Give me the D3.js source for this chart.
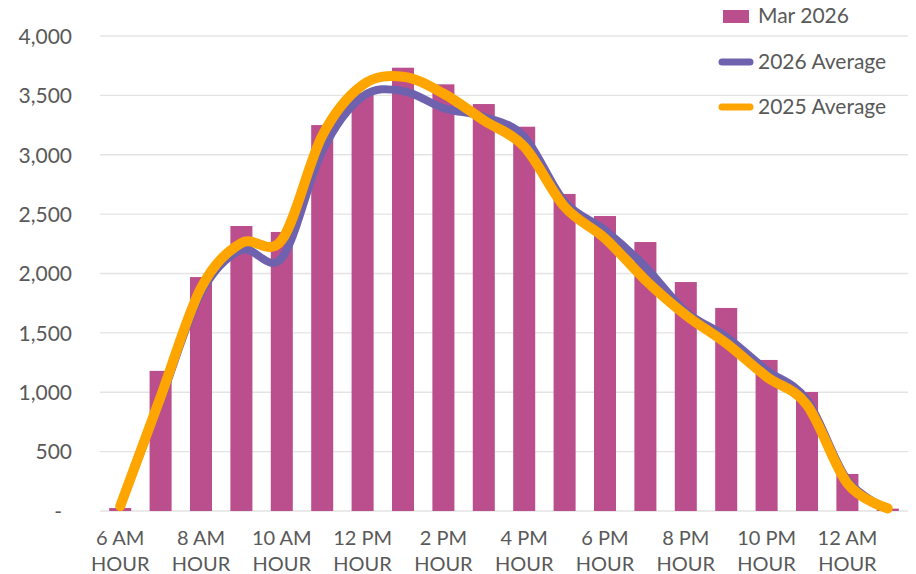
<!DOCTYPE html>
<html>
<head>
<meta charset="utf-8">
<script src="https://cdn.jsdelivr.net/npm/d3@7"></script>
<style>
  html, body { margin: 0; padding: 0; background: #fff; }
  svg { display: block; font-family: Lato, "Open Sans", sans-serif; }
</style>
</head>
<body>
<svg id="chart" width="916" height="574"></svg>
<script>
const hours = ["6 AM","7 AM","8 AM","9 AM","10 AM","11 AM","12 PM","1 PM","2 PM","3 PM","4 PM","5 PM","6 PM","7 PM","8 PM","9 PM","10 PM","11 PM","12 AM","1 AM"];
const mar2026 = [25,1180,1970,2400,2350,3250,3520,3733,3593,3427,3236,2670,2484,2265,1928,1710,1272,1002,312,20];
const avg2026 = [40,930,1835,2198,2130,3030,3490,3537,3393,3320,3152,2605,2366,2057,1678,1468,1187,935,261,20];
const avg2025 = [40,960,1878,2257,2282,3160,3587,3657,3516,3290,3068,2562,2296,1945,1650,1412,1131,893,233,22];
const yTicks = [0,500,1000,1500,2000,2500,3000,3500,4000];
const legendLabels = ["Mar 2026","2026 Average","2025 Average"];

const svg = d3.select("#chart");
const plotLeft = 100, plotRight = 908, plotTop = 36, plotBottom = 511;

const x = d3.scaleBand().domain(hours).range([plotLeft, plotRight]).paddingInner(0.455).paddingOuter(0.2275);
const y = d3.scaleLinear().domain([0, 4000]).range([plotBottom, plotTop]);
const cx = d => x(d) + x.bandwidth() / 2;

const textColor = "#595959";

// gridlines
svg.append("g").selectAll("line").data(yTicks).join("line")
  .attr("x1", plotLeft).attr("x2", plotRight)
  .attr("y1", d => y(d)).attr("y2", d => y(d))
  .attr("stroke", "#e3e3e3").attr("stroke-width", 1.3);

// y axis labels
const yAxis = d3.axisLeft(y).tickValues(yTicks).tickSize(0).tickPadding(0)
  .tickFormat(d => d === 0 ? "-" : d3.format(",")(d));
const gy = svg.append("g").attr("transform", `translate(72,0)`).call(yAxis);
gy.select(".domain").remove();
gy.selectAll("text").attr("fill", textColor).style("font-size", "21px")
  .style("font-family", "Lato, 'Open Sans', sans-serif")
  .attr("dx", 0).attr("dy", "0.35em");
gy.selectAll(".tick").filter(d => d === 0).select("text").attr("dx", -10);

// x axis labels (every other hour, two lines)
const xAxis = d3.axisBottom(x).tickSize(0).tickFormat("")
  .tickValues(hours.filter((d, i) => i % 2 === 0));
const gx = svg.append("g").attr("transform", `translate(0,${plotBottom})`).call(xAxis);
gx.select(".domain").remove();
gx.selectAll(".tick").each(function(d) {
  const t = d3.select(this).select("text");
  t.text(null).attr("fill", textColor).style("font-size", "20px")
   .style("font-family", "Lato, 'Open Sans', sans-serif").attr("text-anchor", "middle").attr("y", 0).attr("dy", null);
  t.append("tspan").attr("x", 0).attr("y", 34).text(d);
  t.append("tspan").attr("x", 0).attr("y", 60).text("HOUR");
});

// bars
svg.append("g").selectAll("rect").data(hours).join("rect")
  .attr("x", d => x(d)).attr("width", x.bandwidth())
  .attr("y", (d, i) => y(mar2026[i]))
  .attr("height", (d, i) => plotBottom - y(mar2026[i]))
  .attr("fill", "#bb4f8e");

const line = d3.line().x(d => cx(d.h)).y(d => y(d.v)).curve(d3.curveCardinal.tension(0));

svg.append("path")
  .attr("d", line(hours.map((h, i) => ({h, v: avg2026[i]}))))
  .attr("fill", "none").attr("stroke", "#6e62ae").attr("stroke-width", 8)
  .attr("stroke-linecap", "round").attr("stroke-linejoin", "round");

svg.append("path")
  .attr("d", line(hours.map((h, i) => ({h, v: avg2025[i]}))))
  .attr("fill", "none").attr("stroke", "#ffa500").attr("stroke-width", 10)
  .attr("stroke-linecap", "round").attr("stroke-linejoin", "round");

// legend
const lg = svg.append("g");
const rowsY = [16, 62, 107];
lg.append("rect").attr("x", 723).attr("y", rowsY[0] - 6).attr("width", 26).attr("height", 13).attr("fill", "#bb4f8e");
lg.append("line").attr("x1", 722).attr("x2", 750).attr("y1", rowsY[1]).attr("y2", rowsY[1])
  .attr("stroke", "#6e62ae").attr("stroke-width", 7).attr("stroke-linecap", "round");
lg.append("line").attr("x1", 722).attr("x2", 750).attr("y1", rowsY[2]).attr("y2", rowsY[2])
  .attr("stroke", "#ffa500").attr("stroke-width", 7).attr("stroke-linecap", "round");
lg.selectAll("text").data(legendLabels).join("text")
  .attr("x", 758).attr("y", (d, i) => rowsY[i]).attr("dy", "0.35em")
  .attr("fill", textColor).style("font-size", "21px").text(d => d);
</script>
</body>
</html>
